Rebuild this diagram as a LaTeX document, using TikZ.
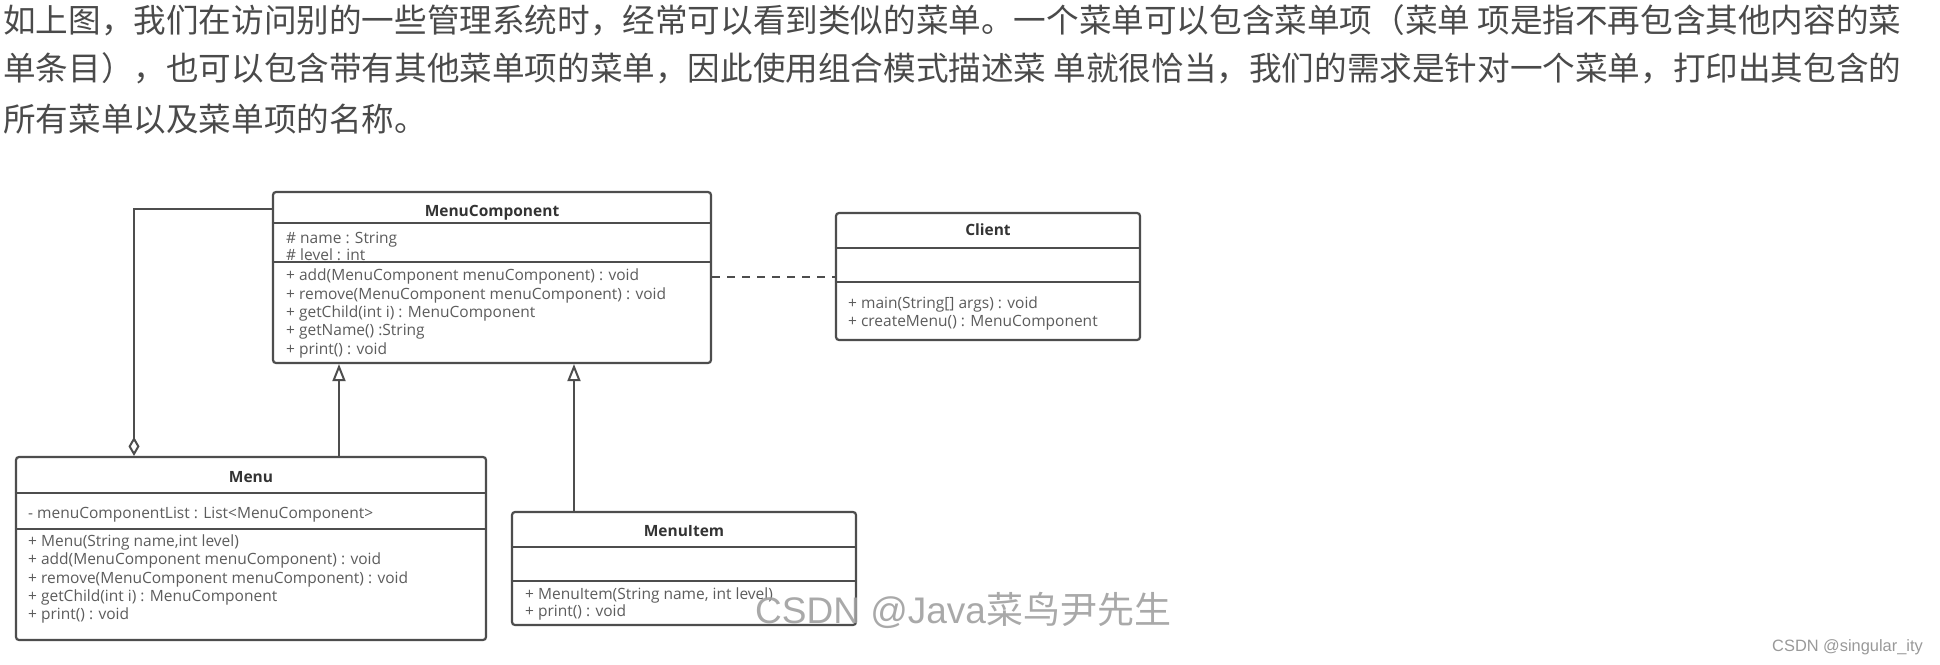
\documentclass[tikz,border=0pt]{standalone}
\usepackage{fontspec}
\setmainfont{Open Sans}
\newfontfamily\cjkfont{Noto Sans CJK SC}
\newfontfamily\libfont{Liberation Sans}
\usetikzlibrary{arrows.meta}
\definecolor{linec}{HTML}{4D4D4D}
\definecolor{membc}{HTML}{5C5C5C}
\definecolor{titlec}{HTML}{333333}
\definecolor{paratext}{HTML}{4A4A4A}
\definecolor{wmark}{HTML}{A0A0A0}
\definecolor{wmarktwo}{HTML}{999999}
\begin{document}
\begin{tikzpicture}[x=1pt,y=-1pt,
 umlbox/.style={draw=linec, line width=2.2pt, rounded corners=3pt, fill=white, inner sep=0pt},
 sepline/.style={draw=linec, line width=2pt},
 memb/.style={anchor=base west, inner sep=0pt, text=membc, font=\fontsize{15.5}{18}\selectfont},
 ctitle/.style={anchor=base, inner sep=0pt, text=titlec, font=\bfseries\fontsize{15.5}{18}\selectfont},
 para/.style={anchor=base west, inner sep=0pt, text=paratext, font=\cjkfont\fontsize{32.6}{40}\selectfont},
 conn/.style={draw=linec, line width=2pt},
 inh/.style={conn, -{Triangle[open, length=17pt, width=13pt, line width=2pt]}},
 aggr/.style={conn, -{Diamond[open, length=19pt, width=11pt, line width=2pt]}},
 dep/.style={conn, dash pattern=on 8pt off 7pt},
]
\fill[white] (0,0) rectangle (1940,664);
\useasboundingbox (0,0) rectangle (1940,664);

% paragraph
\node[para] (p1) at (3,32) {如上图，我们在访问别的一些管理系统时，经常可以看到类似的菜单。一个菜单可以包含菜单项（菜单 项是指不再包含其他内容的菜};
\node[para] (p2) at (3,80) {单条目），也可以包含带有其他菜单项的菜单，因此使用组合模式描述菜 单就很恰当，我们的需求是针对一个菜单，打印出其包含的};
\node[para] (p3) at (3,131.5) {所有菜单以及菜单项的名称。};

% boxes
\node[umlbox, minimum width=438pt, minimum height=171pt] (mc) at (492,277.5) {};
\node[umlbox, minimum width=304pt, minimum height=127pt] (client) at (988,276.5) {};
\node[umlbox, minimum width=470pt, minimum height=183pt] (menu) at (251,548.5) {};
\node[umlbox, minimum width=344pt, minimum height=113pt] (item) at (684,568.5) {};

% separators
\draw[sepline] (mc.west |- 0,223) -- (mc.east |- 0,223);
\draw[sepline] (mc.west |- 0,262) -- (mc.east |- 0,262);
\draw[sepline] (client.west |- 0,248) -- (client.east |- 0,248);
\draw[sepline] (client.west |- 0,282) -- (client.east |- 0,282);
\draw[sepline] (menu.west |- 0,493) -- (menu.east |- 0,493);
\draw[sepline] (menu.west |- 0,529) -- (menu.east |- 0,529);
\draw[sepline] (item.west |- 0,547) -- (item.east |- 0,547);
\draw[sepline] (item.west |- 0,581) -- (item.east |- 0,581);

% MenuComponent
\node[ctitle] (mcT) at (492,216.5) {MenuComponent};
\node[memb] (mcA1) at (286,243) {\# name : String};
\node[memb] (mcA2) at (286,260) {\# level : int};
\node[memb] (mcM1) at (286,280) {+ add(MenuComponent menuComponent) : void};
\node[memb] (mcM2) at (286,299) {+ remove(MenuComponent menuComponent) : void};
\node[memb] (mcM3) at (286,317) {+ getChild(int i) : MenuComponent};
\node[memb] (mcM4) at (286,335) {+ getName() :String};
\node[memb] (mcM5) at (286,354) {+ print() : void};

% Client
\node[ctitle] (clT) at (988,235.5) {Client};
\node[memb] (clM1) at (848,308.5) {+ main(String[] args) : void};
\node[memb] (clM2) at (848,326.5) {+ createMenu() : MenuComponent};

% Menu
\node[ctitle] (meT) at (251,482.7) {Menu};
\node[memb] (meA1) at (28,518.5) {- menuComponentList : List<MenuComponent>};
\node[memb] (meM1) at (28,546.5) {+ Menu(String name,int level)};
\node[memb] (meM2) at (28,564.5) {+ add(MenuComponent menuComponent) : void};
\node[memb] (meM3) at (28,583.5) {+ remove(MenuComponent menuComponent) : void};
\node[memb] (meM4) at (28,601.5) {+ getChild(int i) : MenuComponent};
\node[memb] (meM5) at (28,619.5) {+ print() : void};

% MenuItem
\node[ctitle] (itT) at (684,536.7) {MenuItem};
\node[memb] (itM1) at (525,599) {+ MenuItem(String name, int level)};
\node[memb] (itM2) at (525,616.7) {+ print() : void};

% connectors
\coordinate (aggK) at (134,209);
\draw[aggr] (mc.west |- aggK) -- (aggK) -- (aggK |- menu.north);
\coordinate (iA) at (339,0);
\draw[inh] (iA |- menu.north) -- (iA |- mc.south);
\coordinate (iB) at (574,0);
\draw[inh] (iB |- item.north) -- (iB |- mc.south);
\coordinate (dY) at (0,277);
\draw[dep] (mc.east |- dY) -- (client.west |- dY);

% watermarks
\node[anchor=base west, inner sep=0pt, text=wmark, opacity=0.9, font=\fontsize{37}{40}\selectfont] (wm) at (755,623) {\libfont CSDN @Java\cjkfont 菜鸟尹先生};
\node[anchor=base west, inner sep=0pt, text=wmarktwo, font=\libfont\fontsize{16.4}{18}\selectfont] (sig) at (1772,651) {CSDN @singular\_ity};
\end{tikzpicture}
\end{document}
